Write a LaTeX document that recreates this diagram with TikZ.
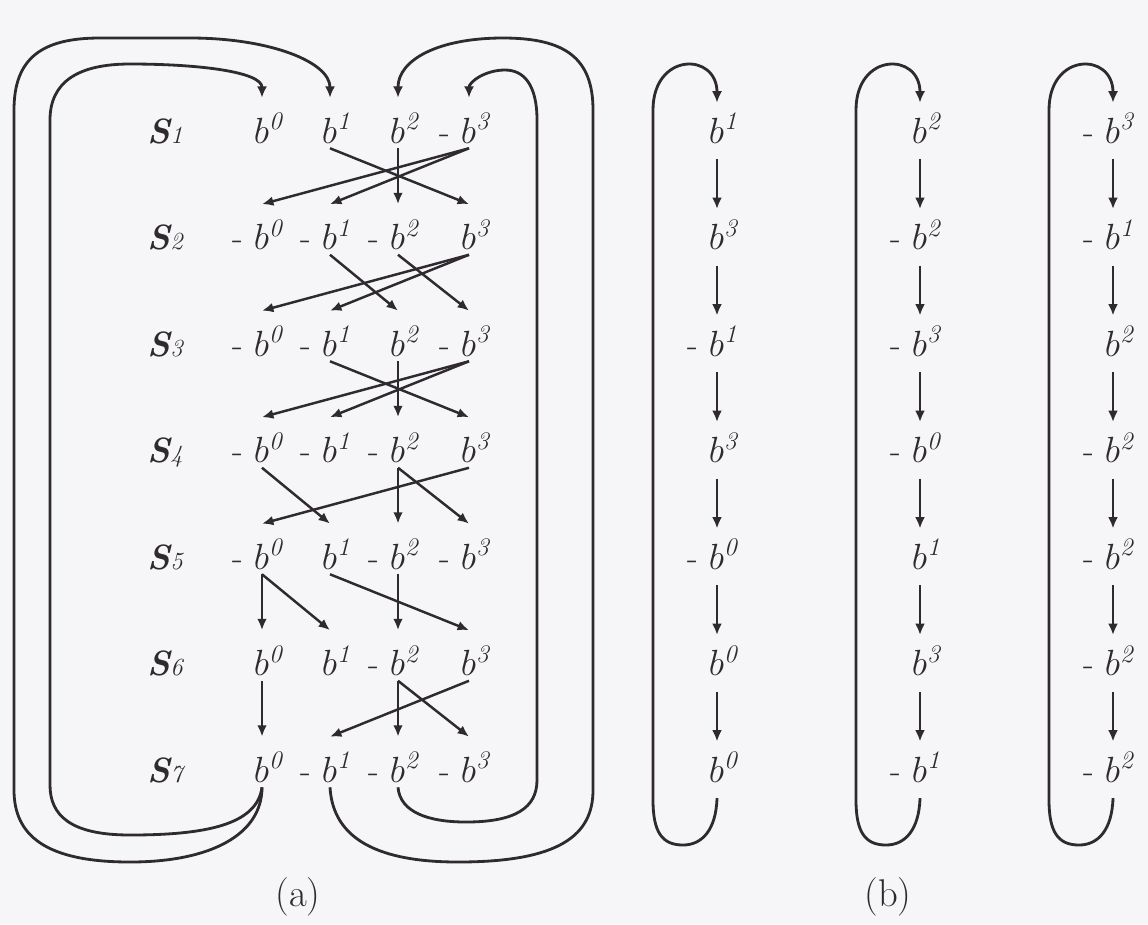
\documentclass[tikz,border=0pt]{standalone}
\usepackage{mathtools}
\usepackage{xcolor}
\usepackage{tikz}
\usetikzlibrary{arrows.meta}
\definecolor{tinta}{HTML}{2E2A30}
\definecolor{fondo}{HTML}{F6F5F7}
\newcommand{\bpos}[1]{$b^{\mathrlap{\mathit{#1}}}$}
\newcommand{\bneg}[1]{\llap{-\hspace{6pt}}$b^{\mathrlap{\mathit{#1}}}$}
\newcommand{\etS}[1]{{\bfseries\itshape S}{\fontsize{14}{16}\selectfont\itshape #1}}
\tikzset{
  ent/.style={text=tinta, inner sep=0pt, anchor=base, text height=25.6pt, text depth=2.8pt,
              font=\fontsize{20}{24}\selectfont},
  entb/.style={ent, text height=22.8pt, text depth=9pt},
  etq/.style={text=tinta, inner sep=0pt, anchor=base, font=\fontsize{20}{22}\selectfont},
  pie/.style={text=tinta, inner sep=0pt, anchor=base, font=\fontsize{22}{24}\selectfont},
  flecha/.style={-{Latex[length=6.5pt,width=5.5pt]}, line width=1.4pt, draw=tinta},
  lazo/.style={-{Latex[length=6.5pt,width=5.8pt]}, line width=1.6pt, draw=tinta},
}

\begin{document}
\begin{tikzpicture}[x=0.02cm, y=-0.02cm]
  \fill[fondo] (0,0) rectangle (1148,924);
  \useasboundingbox (0,0) rectangle (1148,924);
  % (a) row labels
  \node[etq] (s1) at (165,143) {\etS{1}};
  \node[etq] (s2) at (165,249.5) {\etS{2}};
  \node[etq] (s3) at (165,356) {\etS{3}};
  \node[etq] (s4) at (165,462.5) {\etS{4}};
  \node[etq] (s5) at (165,569) {\etS{5}};
  \node[etq] (s6) at (165,675.5) {\etS{6}};
  \node[etq] (s7) at (165,782) {\etS{7}};
  % (a) entries
  \node[ent] (a10) at (262,143) {\bpos{0}}; \node[ent] (a11) at (330,143) {\bpos{1}};
  \node[ent] (a12) at (398,143) {\bpos{2}}; \node[ent] (a13) at (469,143) {\bneg{3}};
  \node[ent] (a20) at (262,249.5) {\bneg{0}}; \node[ent] (a21) at (330,249.5) {\bneg{1}};
  \node[ent] (a22) at (398,249.5) {\bneg{2}}; \node[ent] (a23) at (469,249.5) {\bpos{3}};
  \node[ent] (a30) at (262,356) {\bneg{0}}; \node[ent] (a31) at (330,356) {\bneg{1}};
  \node[ent] (a32) at (398,356) {\bpos{2}}; \node[ent] (a33) at (469,356) {\bneg{3}};
  \node[ent] (a40) at (262,462.5) {\bneg{0}}; \node[ent] (a41) at (330,462.5) {\bneg{1}};
  \node[ent] (a42) at (398,462.5) {\bneg{2}}; \node[ent] (a43) at (469,462.5) {\bpos{3}};
  \node[ent] (a50) at (262,569) {\bneg{0}}; \node[ent] (a51) at (330,569) {\bpos{1}};
  \node[ent] (a52) at (398,569) {\bneg{2}}; \node[ent] (a53) at (469,569) {\bneg{3}};
  \node[ent] (a60) at (262,675.5) {\bpos{0}}; \node[ent] (a61) at (330,675.5) {\bpos{1}};
  \node[ent] (a62) at (398,675.5) {\bneg{2}}; \node[ent] (a63) at (469,675.5) {\bpos{3}};
  \node[ent] (a70) at (262,782) {\bpos{0}}; \node[ent] (a71) at (330,782) {\bneg{1}};
  \node[ent] (a72) at (398,782) {\bneg{2}}; \node[ent] (a73) at (469,782) {\bneg{3}};
  % (a) transitions
  \draw[flecha] (a11.south) -- (a23.north); \draw[flecha] (a12.south) -- (a22.north);
  \draw[flecha] (a13.south) -- (a20.north); \draw[flecha] (a13.south) -- (a21.north);
  \draw[flecha] (a21.south) -- (a32.north); \draw[flecha] (a22.south) -- (a33.north);
  \draw[flecha] (a23.south) -- (a30.north); \draw[flecha] (a23.south) -- (a31.north);
  \draw[flecha] (a31.south) -- (a43.north); \draw[flecha] (a32.south) -- (a42.north);
  \draw[flecha] (a33.south) -- (a40.north); \draw[flecha] (a33.south) -- (a41.north);
  \draw[flecha] (a40.south) -- (a51.north); \draw[flecha] (a42.south) -- (a52.north);
  \draw[flecha] (a42.south) -- (a53.north); \draw[flecha] (a43.south) -- (a50.north);
  \draw[flecha] (a50.south) -- (a60.north); \draw[flecha] (a50.south) -- (a61.north);
  \draw[flecha] (a51.south) -- (a63.north); \draw[flecha] (a52.south) -- (a62.north);
  \draw[flecha] (a60.south) -- (a70.north); \draw[flecha] (a62.south) -- (a72.north);
  \draw[flecha] (a62.south) -- (a73.north); \draw[flecha] (a63.south) -- (a71.north);
  % (a) wrap-around loops
  \draw[lazo] (a70.south) .. controls (262,835) and (210,862) .. (130,862)
    .. controls (45,862) and (14,835) .. (14,790) -- (14,110)
    .. controls (14,58) and (42,38) .. (100,38) -- (190,38)
    .. controls (270,38) and (330,62) .. (a11.north);
  \draw[lazo] (a70.south) .. controls (257,825) and (205,835) .. (130,835)
    .. controls (70,835) and (50,815) .. (50,785) -- (50,120)
    .. controls (50,82) and (78,64) .. (130,64)
    .. controls (200,64) and (262,72) .. (a10.north);
  \draw[lazo] (a71.south) .. controls (333,840) and (380,862) .. (458,862)
    .. controls (560,862) and (593,835) .. (593,790) -- (593,110)
    .. controls (593,58) and (565,38) .. (503,38)
    .. controls (438,38) and (398,60) .. (a12.north);
  \draw[lazo] (a72.south) .. controls (400,812) and (428,822) .. (466,822)
    .. controls (515,822) and (537,808) .. (537,780) -- (537,120)
    .. controls (537,85) and (524,70) .. (505,70)
    .. controls (485,70) and (469,82) .. (a13.north);
  % (b) first column
  \node[entb] (u1) at (717,143) {\bpos{1}};
  \node[entb] (u2) at (717,249.5) {\bpos{3}};
  \node[entb] (u3) at (717,356) {\bneg{1}};
  \node[entb] (u4) at (717,462.5) {\bpos{3}};
  \node[entb] (u5) at (717,569) {\bneg{0}};
  \node[entb] (u6) at (717,675.5) {\bpos{0}};
  \node[entb] (u7) at (717,782) {\bpos{0}};
  % (b) second column
  \node[entb] (v1) at (920,143) {\bpos{2}};
  \node[entb] (v2) at (920,249.5) {\bneg{2}};
  \node[entb] (v3) at (920,356) {\bneg{3}};
  \node[entb] (v4) at (920,462.5) {\bneg{0}};
  \node[entb] (v5) at (920,569) {\bpos{1}};
  \node[entb] (v6) at (920,675.5) {\bpos{3}};
  \node[entb] (v7) at (920,782) {\bneg{1}};
  % (b) third column
  \node[entb] (w1) at (1113,143) {\bneg{3}};
  \node[entb] (w2) at (1113,249.5) {\bneg{1}};
  \node[entb] (w3) at (1113,356) {\bpos{2}};
  \node[entb] (w4) at (1113,462.5) {\bneg{2}};
  \node[entb] (w5) at (1113,569) {\bneg{2}};
  \node[entb] (w6) at (1113,675.5) {\bneg{2}};
  \node[entb] (w7) at (1113,782) {\bneg{2}};
  \draw[flecha] (u1.south) -- (u2.north); \draw[flecha] (u2.south) -- (u3.north);
  \draw[flecha] (u3.south) -- (u4.north); \draw[flecha] (u4.south) -- (u5.north);
  \draw[flecha] (u5.south) -- (u6.north); \draw[flecha] (u6.south) -- (u7.north);
  \draw[flecha] (v1.south) -- (v2.north); \draw[flecha] (v2.south) -- (v3.north);
  \draw[flecha] (v3.south) -- (v4.north); \draw[flecha] (v4.south) -- (v5.north);
  \draw[flecha] (v5.south) -- (v6.north); \draw[flecha] (v6.south) -- (v7.north);
  \draw[flecha] (w1.south) -- (w2.north); \draw[flecha] (w2.south) -- (w3.north);
  \draw[flecha] (w3.south) -- (w4.north); \draw[flecha] (w4.south) -- (w5.north);
  \draw[flecha] (w5.south) -- (w6.north); \draw[flecha] (w6.south) -- (w7.north);
  \draw[lazo] (u7.south) .. controls (716,830) and (702,845) .. (683,845)
    .. controls (662,845) and (653,832) .. (653,800) -- (653,110)
    .. controls (653,52) and (717,52) .. (u1.north);
  \draw[lazo] (v7.south) .. controls (919,830) and (905,845) .. (886,845)
    .. controls (865,845) and (856,832) .. (856,800) -- (856,110)
    .. controls (856,52) and (920,52) .. (v1.north);
  \draw[lazo] (w7.south) .. controls (1112,830) and (1098,845) .. (1079,845)
    .. controls (1058,845) and (1049,832) .. (1049,800) -- (1049,110)
    .. controls (1049,52) and (1113,52) .. (w1.north);
  % captions
  \node[pie] (capa) at (298,906) {(a)};
  \node[pie] (capb) at (888,906) {(b)};
\end{tikzpicture}
\end{document}
